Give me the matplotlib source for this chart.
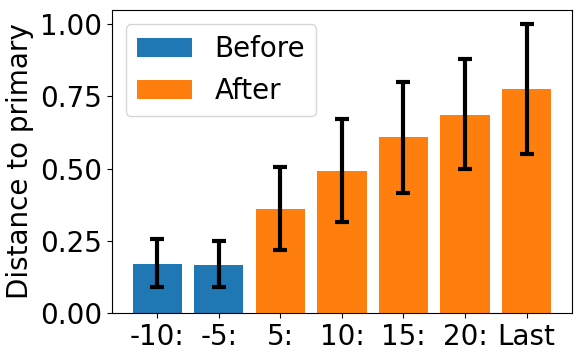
import numpy as np
from matplotlib import pyplot as plt

labels = ["-10:", "-5:", "5:", "10:", "15:", "20:", "Last"]
means = [0.170, 0.167, 0.360, 0.491, 0.608, 0.687, 0.774]
lower = [0.089, 0.089, 0.216, 0.316, 0.416, 0.497, 0.551]
upper = [0.255, 0.248, 0.506, 0.670, 0.799, 0.880, 0.999]
n_before = 2

means = np.array(means)
yerr = np.array([means - np.array(lower), np.array(upper) - means])
x = np.arange(len(labels))

plt.rcParams['font.size'] = 20
fig, ax = plt.subplots(figsize=(5.82, 3.6), dpi=100)
fig.subplots_adjust(left=0.192, right=0.983, top=0.972, bottom=0.131)

err_kw = dict(elinewidth=3, capsize=5, capthick=3, ecolor="black")
ax.bar(x[:n_before], means[:n_before], 0.8, yerr=yerr[:, :n_before],
       color="#1f77b4", label="Before", error_kw=err_kw)
ax.bar(x[n_before:], means[n_before:], 0.8, yerr=yerr[:, n_before:],
       color="#ff7f0e", label="After", error_kw=err_kw)

ax.set_xticks(x)
ax.set_xticklabels(labels)
ax.set_yticks([0.0, 0.25, 0.5, 0.75, 1.0])
ax.set_ylabel("Distance to primary")
ax.legend(loc="upper left")

fig.savefig("out.png")
